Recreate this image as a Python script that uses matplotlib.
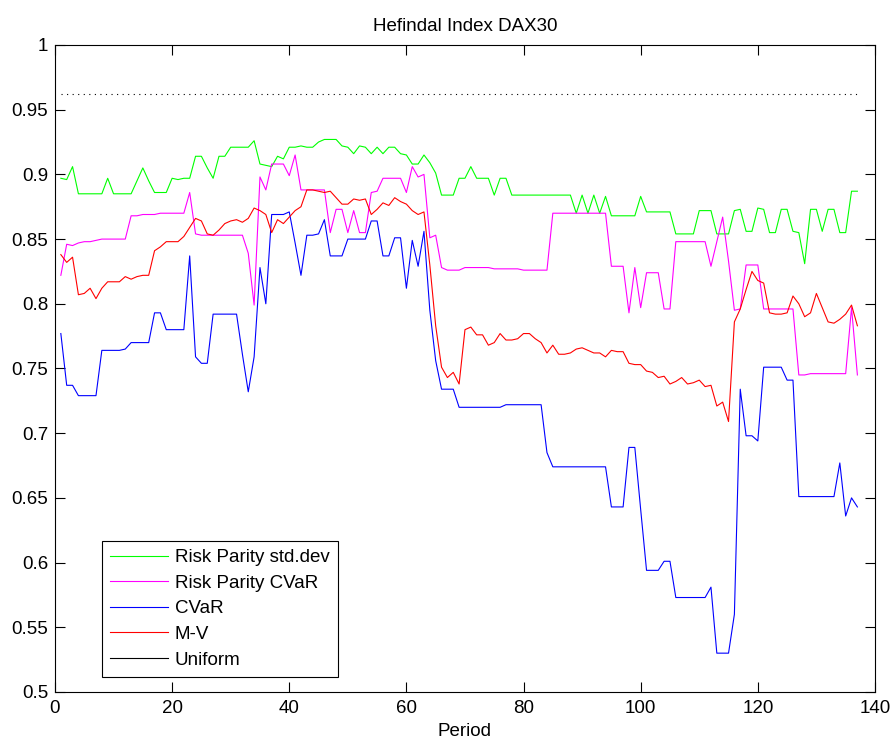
import numpy as np
import matplotlib
matplotlib.use('Agg')
import matplotlib.pyplot as plt
from matplotlib.lines import Line2D

plt.rcParams['font.family'] = ['Liberation Sans', 'DejaVu Sans']

# Herfindahl index per rebalancing period
rp_std = [0.897, 0.896, 0.906, 0.885, 0.885, 0.885, 0.885, 0.885, 0.897, 0.885,
          0.885, 0.885, 0.885, 0.895, 0.905, 0.895, 0.886, 0.886, 0.886, 0.897,
          0.896, 0.897, 0.897, 0.914, 0.914, 0.905, 0.897, 0.914, 0.914, 0.921,
          0.921, 0.921, 0.921, 0.926, 0.908, 0.907, 0.906, 0.914, 0.912, 0.921,
          0.921, 0.922, 0.921, 0.921, 0.925, 0.927, 0.927, 0.927, 0.922, 0.921,
          0.916, 0.922, 0.921, 0.916, 0.921, 0.916, 0.921, 0.921, 0.916, 0.915,
          0.908, 0.908, 0.915, 0.909, 0.901, 0.884, 0.884, 0.884, 0.897, 0.897,
          0.906, 0.897, 0.897, 0.897, 0.884, 0.897, 0.897, 0.884, 0.884, 0.884,
          0.884, 0.884, 0.884, 0.884, 0.884, 0.884, 0.884, 0.884, 0.870, 0.884,
          0.870, 0.884, 0.870, 0.883, 0.868, 0.868, 0.868, 0.868, 0.868, 0.883,
          0.871, 0.871, 0.871, 0.871, 0.871, 0.854, 0.854, 0.854, 0.854, 0.872,
          0.872, 0.872, 0.854, 0.854, 0.854, 0.872, 0.873, 0.856, 0.856, 0.874,
          0.873, 0.855, 0.855, 0.873, 0.873, 0.856, 0.855, 0.831, 0.873, 0.873,
          0.856, 0.873, 0.873, 0.855, 0.855, 0.887, 0.887]

rp_cvar = [0.822, 0.846, 0.845, 0.847, 0.848, 0.848, 0.849, 0.850, 0.850, 0.850,
           0.850, 0.850, 0.868, 0.868, 0.869, 0.869, 0.869, 0.870, 0.870, 0.870,
           0.870, 0.870, 0.886, 0.854, 0.853, 0.853, 0.853, 0.853, 0.853, 0.853,
           0.853, 0.853, 0.839, 0.799, 0.898, 0.888, 0.908, 0.908, 0.908, 0.899,
           0.915, 0.888, 0.888, 0.888, 0.888, 0.888, 0.855, 0.873, 0.873, 0.855,
           0.872, 0.855, 0.855, 0.886, 0.887, 0.897, 0.897, 0.897, 0.897, 0.886,
           0.906, 0.898, 0.900, 0.851, 0.853, 0.828, 0.826, 0.826, 0.826, 0.828,
           0.828, 0.828, 0.828, 0.828, 0.827, 0.827, 0.827, 0.827, 0.827, 0.826,
           0.826, 0.826, 0.826, 0.826, 0.870, 0.870, 0.870, 0.870, 0.870, 0.870,
           0.870, 0.870, 0.870, 0.870, 0.829, 0.829, 0.829, 0.793, 0.828, 0.797,
           0.824, 0.824, 0.824, 0.796, 0.796, 0.848, 0.848, 0.848, 0.848, 0.848,
           0.848, 0.829, 0.848, 0.867, 0.833, 0.795, 0.796, 0.830, 0.830, 0.830,
           0.796, 0.796, 0.796, 0.796, 0.796, 0.796, 0.745, 0.745, 0.746, 0.746,
           0.746, 0.746, 0.746, 0.746, 0.746, 0.797, 0.745]

cvar = [0.777, 0.737, 0.737, 0.729, 0.729, 0.729, 0.729, 0.764, 0.764, 0.764,
        0.764, 0.765, 0.770, 0.770, 0.770, 0.770, 0.793, 0.793, 0.780, 0.780,
        0.780, 0.780, 0.837, 0.759, 0.754, 0.754, 0.792, 0.792, 0.792, 0.792,
        0.792, 0.761, 0.732, 0.759, 0.828, 0.800, 0.869, 0.869, 0.869, 0.871,
        0.847, 0.822, 0.853, 0.853, 0.854, 0.865, 0.837, 0.837, 0.837, 0.850,
        0.850, 0.850, 0.850, 0.864, 0.864, 0.837, 0.837, 0.851, 0.851, 0.812,
        0.849, 0.829, 0.856, 0.795, 0.756, 0.734, 0.734, 0.734, 0.720, 0.720,
        0.720, 0.720, 0.720, 0.720, 0.720, 0.720, 0.722, 0.722, 0.722, 0.722,
        0.722, 0.722, 0.722, 0.685, 0.674, 0.674, 0.674, 0.674, 0.674, 0.674,
        0.674, 0.674, 0.674, 0.674, 0.643, 0.643, 0.643, 0.689, 0.689, 0.641,
        0.594, 0.594, 0.594, 0.601, 0.601, 0.573, 0.573, 0.573, 0.573, 0.573,
        0.573, 0.581, 0.530, 0.530, 0.530, 0.560, 0.734, 0.698, 0.698, 0.694,
        0.751, 0.751, 0.751, 0.751, 0.741, 0.741, 0.651, 0.651, 0.651, 0.651,
        0.651, 0.651, 0.651, 0.677, 0.636, 0.650, 0.643]

mv = [0.838, 0.832, 0.836, 0.807, 0.808, 0.812, 0.804, 0.812, 0.817, 0.817,
      0.817, 0.821, 0.819, 0.821, 0.822, 0.822, 0.841, 0.844, 0.848, 0.848,
      0.848, 0.852, 0.859, 0.866, 0.864, 0.854, 0.853, 0.857, 0.862, 0.864,
      0.865, 0.863, 0.866, 0.874, 0.872, 0.869, 0.855, 0.865, 0.862, 0.867,
      0.872, 0.875, 0.888, 0.888, 0.887, 0.886, 0.887, 0.882, 0.877, 0.877,
      0.881, 0.880, 0.881, 0.869, 0.873, 0.878, 0.876, 0.882, 0.879, 0.877,
      0.872, 0.869, 0.871, 0.830, 0.783, 0.751, 0.743, 0.747, 0.738, 0.780,
      0.782, 0.776, 0.776, 0.768, 0.770, 0.777, 0.772, 0.772, 0.773, 0.777,
      0.777, 0.773, 0.770, 0.762, 0.768, 0.761, 0.761, 0.762, 0.765, 0.766,
      0.764, 0.762, 0.762, 0.759, 0.764, 0.763, 0.763, 0.754, 0.753, 0.753,
      0.748, 0.747, 0.743, 0.744, 0.738, 0.740, 0.743, 0.738, 0.739, 0.741,
      0.736, 0.737, 0.721, 0.724, 0.709, 0.786, 0.796, 0.811, 0.825, 0.818,
      0.816, 0.793, 0.792, 0.792, 0.793, 0.806, 0.800, 0.790, 0.793, 0.808,
      0.797, 0.786, 0.785, 0.788, 0.792, 0.799, 0.783]

uniform = 0.962

labels = ['Risk Parity std.dev', 'Risk Parity CVaR', 'CVaR', 'M-V', 'Uniform']
colors = ['#00ff00', '#ff00ff', '#0000ff', '#ff0000', 'k']

periods = np.arange(1, len(rp_std) + 1)

fs = 13.5

fig = plt.figure(figsize=(8.94, 7.40), dpi=100)
ax = fig.add_axes([0.0615, 0.0649, 0.9172, 0.8743])

for vals, c in zip([rp_std, rp_cvar, cvar, mv], colors[:4]):
    ax.plot(periods, vals, color=c, linewidth=0.8)
# uniform portfolio as a dotted reference line
ax.plot([periods[0], periods[-1]], [uniform, uniform], color='k',
        linewidth=0.8, linestyle=(0, (1, 4)))

ax.set_xlim(0, 140)
ax.set_ylim(0.5, 1.0)
ax.set_xticks(np.arange(0, 141, 20))
yt = np.arange(0.5, 1.001, 0.05)
ax.set_yticks(yt)
ax.set_yticklabels(['%g' % round(v, 2) for v in yt])
ax.tick_params(direction='in', length=7, width=0.8, top=True, right=True,
               labelsize=fs)
ax.tick_params(axis='x', pad=6)
ax.tick_params(axis='y', pad=5)
for s in ax.spines.values():
    s.set_linewidth(0.8)

ax.set_title('Hefindal Index DAX30', fontsize=fs, pad=10)
ax.set_xlabel('Period', fontsize=fs, labelpad=4)

handles = [Line2D([], [], color=c, linewidth=0.8) for c in colors]
leg = ax.legend(handles, labels, loc='lower left',
                bbox_to_anchor=(0.0573, 0.0232), fontsize=fs, fancybox=False,
                framealpha=1, edgecolor='k', handlelength=3.05,
                borderaxespad=0, borderpad=0.45, handletextpad=0.37,
                labelspacing=0.45)
leg.get_frame().set_linewidth(0.8)

fig.savefig('out.png', dpi=100)
